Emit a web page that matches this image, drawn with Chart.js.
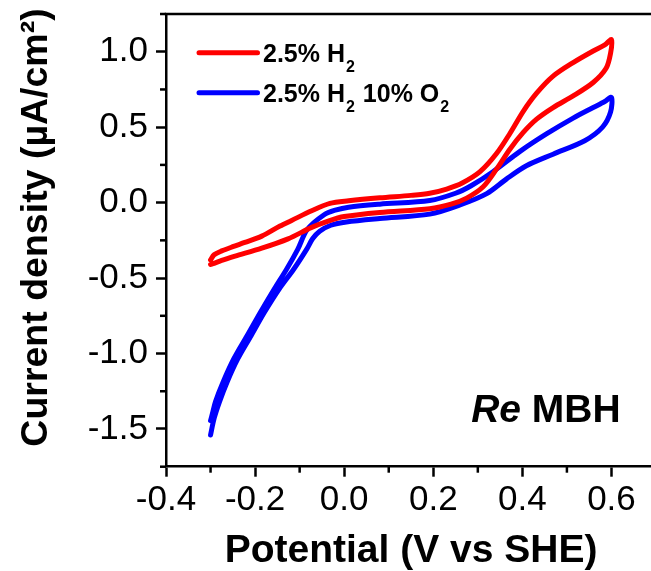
<!DOCTYPE html>
<html>
<head>
<meta charset="utf-8">
<script src="https://cdn.jsdelivr.net/npm/chart.js@4"></script>
<style>
  html, body { margin: 0; padding: 0; background: #fff; overflow: hidden; width: 651px; height: 571px; }
  #c { display: block; }
</style>
</head>
<body>
<canvas id="c" width="656" height="575"></canvas>
<script>
// ---- data ----
const seriesLabels = ['2.5% H\u2082', '2.5% H\u2082 10% O\u2082'];
const seriesColors = ['#ff0000', '#0000ff'];

const potentialH2 = [
  -0.300, -0.292, -0.275, -0.250, -0.223, -0.185, -0.144, -0.118, -0.073, -0.032,
   0.010,  0.080,  0.150,  0.192,  0.230,  0.265,  0.305,  0.342,  0.372,  0.402,
   0.432,  0.469,  0.514,  0.559,  0.585,  0.600,
   0.598,  0.588,  0.559,  0.514,  0.469,  0.432,  0.402,  0.372,  0.342,  0.312,
   0.275,  0.240,  0.192,  0.080,  0.000, -0.036, -0.073, -0.126, -0.185, -0.245,
  -0.275, -0.292, -0.300
];
const currentH2 = [
  -0.380, -0.345, -0.320, -0.292, -0.264, -0.222, -0.155, -0.118, -0.054, -0.005,
   0.012,  0.032,  0.048,  0.062,  0.090,  0.130,  0.205,  0.325,  0.458,  0.605,
   0.725,  0.838,  0.928,  1.005,  1.045,  1.080,
   0.990,  0.890,  0.796,  0.707,  0.630,  0.553,  0.465,  0.354,  0.222,  0.105,
   0.030, -0.010, -0.040, -0.065, -0.092, -0.122, -0.164, -0.240, -0.302, -0.355,
  -0.383, -0.402, -0.410
];

const potentialH2O2 = [
  -0.300, -0.296, -0.289, -0.272, -0.248, -0.218, -0.188, -0.157, -0.129, -0.104,
  -0.083, -0.045, -0.020,  0.010,  0.080,  0.192,  0.250,  0.285,  0.334,  0.394,
   0.454,  0.514,  0.559,  0.585,  0.600,
   0.598,  0.580,  0.540,  0.469,  0.409,  0.364,  0.320,  0.260,  0.192,  0.080,
   0.005, -0.030, -0.055, -0.071, -0.084, -0.113, -0.146, -0.179, -0.209, -0.239,
  -0.263, -0.280, -0.292, -0.300
];
const currentH2O2 = [
  -1.445, -1.400, -1.320, -1.190, -1.036, -0.882, -0.727, -0.573, -0.440, -0.308,
  -0.178, -0.080, -0.050, -0.030, -0.010,  0.014,  0.062,  0.112,  0.205,  0.338,
   0.455,  0.560,  0.630,  0.670,  0.697,
   0.600,  0.500,  0.410,  0.321,  0.244,  0.156,  0.060, -0.015, -0.076, -0.105,
  -0.128, -0.150, -0.190, -0.240, -0.308, -0.440, -0.573, -0.727, -0.882, -1.036,
  -1.190, -1.320, -1.430, -1.540
];

const xTickValues = [-0.4, -0.2, 0.0, 0.2, 0.4, 0.6];
const xMinorTicks = [-0.3, -0.1, 0.1, 0.3, 0.5];
const yTickValues = [-1.5, -1.0, -0.5, 0.0, 0.5, 1.0];
const yMinorTicks = [-1.75, -1.25, -0.75, -0.25, 0.25, 0.75, 1.25];
const xTitle = 'Potential (V vs SHE)';
const yTitle = 'Current density (\u00b5A/cm\u00b2)';
const annotationItalic = 'Re';
const annotationRest = ' MBH';

// ---- chart ----
const FONT = '"Liberation Sans", Arial, Helvetica, sans-serif';

function toPoints(xs, ys) { return xs.map((v, i) => ({ x: v, y: ys[i] })); }

const framePlugin = {
  id: 'frame',
  afterDraw(chart) {
    const ctx = chart.ctx;
    const xs = chart.scales.x, ys = chart.scales.y;
    const L = xs.getPixelForValue(xs.min), R = xs.getPixelForValue(xs.max);
    const T = ys.getPixelForValue(ys.max), B = ys.getPixelForValue(ys.min);
    ctx.save();
    ctx.fillStyle = '#000000';
    // top border
    ctx.fillRect(L - 1.25, T - 1.25, (R - L) + 6, 2.5);
    // minor ticks
    xMinorTicks.forEach(v => {
      const px = xs.getPixelForValue(v);
      ctx.fillRect(px - 1.25, B, 2.5, 6);
    });
    yMinorTicks.forEach(v => {
      const py = ys.getPixelForValue(v);
      ctx.fillRect(L - 6, py - 1.25, 6, 2.5);
    });

    // y axis title (rotated)
    ctx.save();
    ctx.translate(36.5, 227.5);
    ctx.rotate(-Math.PI / 2);
    ctx.fillStyle = '#000';
    ctx.textAlign = 'center';
    ctx.textBaseline = 'middle';
    ctx.font = 'bold 37.5px ' + FONT;
    ctx.fillText(yTitle, 0, 0);
    ctx.restore();

    // legend
    chart.data.datasets.forEach((ds, i) => {
      const y = T + 38.7 + i * 40;
      ctx.strokeStyle = ds.borderColor;
      ctx.lineWidth = 5;
      ctx.lineCap = 'round';
      ctx.beginPath();
      ctx.moveTo(L + 33, y);
      ctx.lineTo(L + 91.5, y);
      ctx.stroke();
      let x = L + 97;
      const base = y + 8.8;
      ctx.fillStyle = '#000';
      ctx.textBaseline = 'alphabetic';
      ctx.textAlign = 'left';
      for (const ch of ds.label) {
        if (ch === '\u2082') {
          ctx.font = 'bold 16px ' + FONT;
          ctx.fillText('2', x + 1, base + 10);
          x += ctx.measureText('2').width + 2;
        } else {
          ctx.font = 'bold 25px ' + FONT;
          ctx.fillText(ch, x, base);
          x += ctx.measureText(ch).width;
        }
      }
    });

    // annotation "Re MBH"
    const ax = xs.getPixelForValue(0.285);
    const ay = ys.getPixelForValue(-1.454);
    ctx.fillStyle = '#000';
    ctx.textBaseline = 'alphabetic';
    ctx.textAlign = 'left';
    ctx.font = 'italic bold 39px ' + FONT;
    ctx.fillText(annotationItalic, ax, ay);
    const w = ctx.measureText(annotationItalic).width;
    ctx.font = 'bold 39px ' + FONT;
    ctx.fillText(annotationRest, ax + w, ay);
    ctx.restore();
  }
};

new Chart(document.getElementById('c'), {
  type: 'scatter',
  data: {
    datasets: [
      { label: seriesLabels[0], data: toPoints(potentialH2, currentH2), borderColor: seriesColors[0] },
      { label: seriesLabels[1], data: toPoints(potentialH2O2, currentH2O2), borderColor: seriesColors[1] }
    ].map(d => Object.assign(d, {
      showLine: true, pointRadius: 0, pointHoverRadius: 0, borderWidth: 5,
      tension: 0.3, borderCapStyle: 'round', borderJoinStyle: 'round', fill: false
    }))
  },
  options: {
    responsive: false,
    animation: false,
    devicePixelRatio: 1,
    events: [],
    layout: { padding: { left: 79.7, top: 14, right: 0, bottom: 0 } },
    plugins: { legend: { display: false }, tooltip: { enabled: false } },
    scales: {
      x: {
        type: 'linear', min: -0.4, max: 0.7,
        afterBuildTicks: s => { s.ticks = xTickValues.map(v => ({ value: v })); },
        ticks: { color: '#000', font: { family: FONT, size: 35 }, padding: 2.8, maxRotation: 0,
                 callback: v => v.toFixed(1) },
        grid: { display: true, drawOnChartArea: false, drawTicks: true, tickLength: 10, tickWidth: 2.5, tickColor: '#000' },
        border: { display: true, width: 2.5, color: '#000' },
        title: { display: true, text: xTitle, color: '#000',
                 font: { family: FONT, size: 39, weight: 'bold' }, padding: { top: 3.9, bottom: 0 } }
      },
      y: {
        type: 'linear', min: -1.75, max: 1.25,
        afterBuildTicks: s => { s.ticks = yTickValues.map(v => ({ value: v })); },
        ticks: { color: '#000', font: { family: FONT, size: 35, lineHeight: 0.3 }, padding: 8,
                 callback: v => v.toFixed(1) },
        grid: { display: true, drawOnChartArea: false, drawTicks: true, tickLength: 10, tickWidth: 2.5, tickColor: '#000' },
        border: { display: true, width: 2.5, color: '#000' },
        title: { display: false, text: yTitle }
      }
    }
  },
  plugins: [framePlugin]
});
</script>
</body>
</html>
